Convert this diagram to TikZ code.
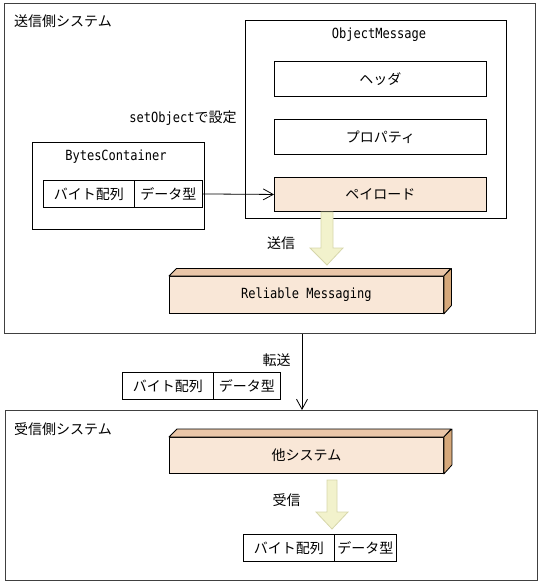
\documentclass[tikz,border=0pt]{standalone}
\usepackage{fontspec}
\newfontfamily\cjk{Noto Sans CJK JP}
\newfontfamily\mono[FakeStretch=0.86]{DejaVu Sans Mono}
\newcommand\lat[1]{{\mono\fontsize{14}{16}\selectfont #1}}
\usetikzlibrary{arrows.meta}
\definecolor{peach}{RGB}{249,231,215}
\definecolor{peachtop}{RGB}{234,198,168}
\definecolor{peachside}{RGB}{214,168,122}
\definecolor{arrowfill}{RGB}{242,242,204}
\definecolor{arrowdraw}{RGB}{214,214,170}
\definecolor{outer}{RGB}{64,64,64}
\tikzset{
  sysbox/.style={draw=outer, line width=1pt, inner sep=0pt, anchor=north west},
  box/.style={draw=black, line width=0.9pt, inner sep=0pt, anchor=north west, font=\cjk\fontsize{14}{16}\selectfont},
  lbl/.style={inner sep=0pt, font=\cjk\fontsize{14}{16}\selectfont},
  thinarrow/.style={draw=black, line width=0.8pt, -{Straight Barb[length=10pt,width=11pt,line width=0.8pt]}},
  bigarrow/.style={fill=arrowfill, draw=arrowdraw, line width=0.8pt, line join=miter},
  face/.style={draw=black, line width=0.8pt, line join=round}
}
\begin{document}
\begin{tikzpicture}[x=1pt,y=-1pt]
\useasboundingbox (0,0) rectangle (541,584);
% sender system
\node[sysbox, minimum width=531pt, minimum height=330pt] (send) at (4,3) {};
\node[lbl, anchor=west] (sendt) at (14,21) {送信側システム};
% ObjectMessage
\node[sysbox, draw=black, minimum width=261pt, minimum height=198pt] (om) at (245,20) {};
\node[lbl] (omt) at (379,35) {\lat{ObjectMessage}};
\node[box, minimum width=212pt, minimum height=35pt] (hdr) at (274,61) {ヘッダ};
\node[box, minimum width=212pt, minimum height=35pt] (prop) at (274,119) {プロパティ};
\node[box, fill=peach, minimum width=212pt, minimum height=34pt] (pay) at (274,177) {ペイロード};
\node[lbl] (seto) at (183,118) {\lat{setObject}で設定};
% BytesContainer
\node[box, minimum width=172pt, minimum height=87pt] (bc) at (32,142) {};
\node[lbl] (bct) at (116,157) {\lat{BytesContainer}};
\node[box, minimum width=91pt, minimum height=27pt] (b1) at (43,180) {バイト配列};
\node[box, minimum width=68pt, minimum height=27pt] (d1) at (134,180) {データ型};
\draw[thinarrow] (d1.east) -- (pay.west);
% big arrow 1
\draw[bigarrow] (321,212) -- (333,212) -- (333,248) -- (343,248) -- (327,265) -- (310,248) -- (321,248) -- cycle;
\node[lbl] (sendl) at (281,243) {送信};
% Reliable Messaging
\node[box, fill=peach, minimum width=274pt, minimum height=37pt] (rm) at (169,276) {\lat{Reliable Messaging}};
\draw[face, fill=peachtop] (rm.north west) -- ++(7.5,-7.5) -- ++(274,0) -- (rm.north east) -- cycle;
\draw[face, fill=peachside] (rm.north east) -- ++(7.5,-7.5) -- ++(0,37) -- (rm.south east) -- cycle;
% transfer
\coordinate (tx) at (302,0);
\draw[thinarrow] (send.south -| tx) -- (302,410);
\node[lbl] (trl) at (276.5,360) {転送};
\node[box, minimum width=91pt, minimum height=27pt] (b2) at (122,372) {バイト配列};
\node[box, minimum width=67pt, minimum height=27pt] (d2) at (213,372) {データ型};
% receiver
\node[sysbox, minimum width=532pt, minimum height=170pt] (recv) at (5,410) {};
\node[lbl, anchor=west] (recvt) at (14,429) {受信側システム};
\node[box, fill=peach, minimum width=274pt, minimum height=36pt] (oth) at (169,437) {他システム};
\draw[face, fill=peachtop] (oth.north west) -- ++(8,-8) -- ++(274,0) -- (oth.north east) -- cycle;
\draw[face, fill=peachside] (oth.north east) -- ++(8,-8) -- ++(0,36) -- (oth.south east) -- cycle;
% big arrow 2
\draw[bigarrow] (327,480) -- (337,480) -- (337,512) -- (348,512) -- (332,529) -- (316,512) -- (327,512) -- cycle;
\node[lbl] (recl) at (286.5,500) {受信};
\node[box, minimum width=91pt, minimum height=27pt] (b3) at (243,534) {バイト配列};
\node[box, minimum width=62pt, minimum height=27pt] (d3) at (334,534) {データ型};
\end{tikzpicture}
\end{document}
